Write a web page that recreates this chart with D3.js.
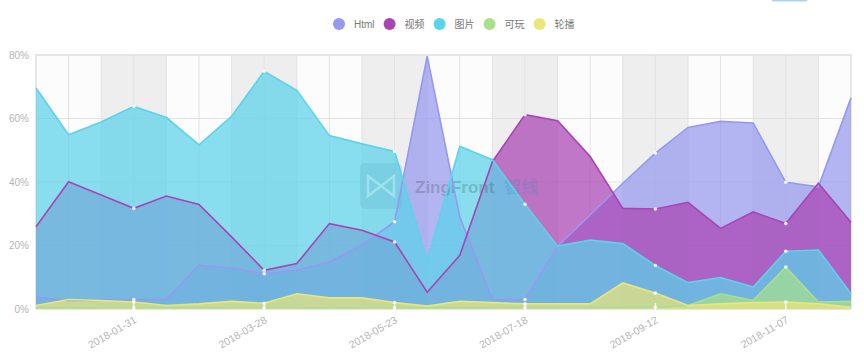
<!DOCTYPE html>
<html>
<head>
<meta charset="utf-8">
<script src="https://cdn.jsdelivr.net/npm/d3@7"></script>
<style>
  body { margin: 0; background: #fff; }
  svg { display: block; font-family: "Liberation Sans", Arial, "Noto Sans CJK SC", sans-serif; }
</style>
</head>
<body>
<script>
// categories: one point every two weeks
const dates = ["2017-12-20", "2018-01-03", "2018-01-17", "2018-01-31", "2018-02-14", "2018-02-28",
  "2018-03-14", "2018-03-28", "2018-04-11", "2018-04-25", "2018-05-09", "2018-05-23", "2018-06-06",
  "2018-06-20", "2018-07-04", "2018-07-18", "2018-08-01", "2018-08-15", "2018-08-29", "2018-09-12",
  "2018-09-26", "2018-10-10", "2018-10-24", "2018-11-07", "2018-11-21", "2018-12-05"];

const seriesNames = ["Html", "视频", "图片", "可玩", "轮播"];
const seriesColors = ["#959aee", "#a944b3", "#5bd3ea", "#a8e08c", "#ebe57a"];

// values in percent
const html   = [3.7, 2.7, 2.8, 3.0, 3.0, 13.8, 12.9, 11.1, 12.2, 14.8, 20.1, 27.5, 79.6, 29.0, 2.9, 3.0, 19.8, 29.6, 39.6, 49.1, 57.2, 59.1, 58.6, 39.9, 38.5, 66.5];
const video  = [25.9, 40.1, 35.9, 31.7, 35.6, 32.9, 22.7, 12.2, 14.3, 26.9, 24.8, 21.1, 5.3, 16.9, 46.4, 61.2, 59.3, 48.0, 31.7, 31.5, 33.6, 25.4, 30.6, 26.9, 39.6, 27.3];
const image  = [69.6, 54.9, 58.9, 63.8, 60.3, 51.7, 60.7, 74.9, 68.9, 54.6, 52.0, 49.6, 15.3, 51.2, 47.0, 33.0, 19.8, 21.7, 20.6, 13.7, 8.3, 9.9, 6.9, 18.2, 18.6, 4.8];
const play   = [0.4, 0.4, 0.4, 0.4, 0.4, 0.4, 0.4, 0.4, 0.4, 0.4, 0.4, 0.4, 0.4, 0.4, 0.4, 0.4, 0.4, 0.4, 0.5, 0.5, 1.1, 4.8, 2.7, 13.2, 2.2, 2.4];
const slide  = [1.1, 3.0, 2.7, 2.2, 1.1, 1.6, 2.4, 1.8, 4.8, 3.5, 3.5, 2.0, 0.9, 2.4, 2.0, 1.6, 1.6, 1.6, 8.2, 5.0, 1.1, 1.6, 2.0, 2.2, 1.6, 0.5];

const yTicks = [0, 20, 40, 60, 80];
const labelEvery = 4, labelOffset = 3;

const width = 864, height = 362;
const margin = {top: 55, right: 13, bottom: 53, left: 36};
const innerW = width - margin.left - margin.right,
      innerH = height - margin.top - margin.bottom;

const svg = d3.select("body").append("svg")
    .attr("width", width)
    .attr("height", height);

// small tab cut off at the top right
svg.append("rect")
    .attr("x", 771).attr("y", -6).attr("width", 37).attr("height", 7.5)
    .attr("rx", 3).attr("fill", "#a9d3f7");

const g = svg.append("g")
    .attr("transform", "translate(" + margin.left + "," + margin.top + ")");

const x = d3.scaleLinear().domain([0, dates.length - 1]).range([0, innerW]);
const y = d3.scaleLinear().domain([0, 80]).range([innerH, 0]);

// background bands, two intervals wide, alternating
g.append("rect").attr("width", innerW).attr("height", innerH).attr("fill", "#fcfcfc");
for (let i = 2; i < dates.length - 1; i += 4) {
  g.append("rect")
    .attr("x", x(i)).attr("y", 0)
    .attr("width", Math.min(x(i + 2), innerW) - x(i))
    .attr("height", innerH)
    .attr("fill", "#eeeeee");
}

// grid
g.selectAll(".vgrid").data(dates).join("line")
    .attr("x1", (d, i) => x(i)).attr("x2", (d, i) => x(i))
    .attr("y1", 0).attr("y2", innerH)
    .attr("stroke", "#e2e2e2");
g.selectAll(".hgrid").data(yTicks).join("line")
    .attr("x1", 0).attr("x2", innerW)
    .attr("y1", d => y(d)).attr("y2", d => y(d))
    .attr("stroke", "#e2e2e2");
g.append("rect").attr("width", innerW).attr("height", innerH)
    .attr("fill", "none").attr("stroke", "#e4e4e4").attr("stroke-width", 1.5);

// areas first, lines on top
const series = [html, video, image, play, slide];
const area = d3.area()
    .x((d, i) => x(i))
    .y0(y(0))
    .y1(d => y(d));
const line = d3.line()
    .x((d, i) => x(i))
    .y(d => y(d));

series.forEach((vals, k) => {
  g.append("path").datum(vals)
      .attr("d", area)
      .attr("fill", seriesColors[k])
      .attr("fill-opacity", 0.72);
});

// watermark
const wm = g.append("g").attr("transform", "translate(" + (360 - margin.left) + "," + (163 - margin.top) + ")").attr("opacity", 0.22);
wm.append("rect").attr("width", 42).attr("height", 46).attr("rx", 5).attr("fill", "#5aa9c8");
wm.append("path").attr("d", "M8,13 L8,33 L21,23 Z M34,13 L34,33 L21,23 Z")
    .attr("fill", "none").attr("stroke", "#ffffff").attr("stroke-width", 2.5);
const wmText = wm.append("text").attr("x", 55).attr("y", 30).text("ZingFront")
    .attr("font-size", 17).attr("font-weight", "bold").attr("fill", "#333");
wm.append("text").attr("x", 55 + wmText.node().getComputedTextLength() + 10).attr("y", 30).text("智线")
    .attr("font-family", "Noto Sans CJK SC").attr("font-size", 17).attr("font-weight", "bold").attr("fill", "#2a8fd0");

series.forEach((vals, k) => {
  g.append("path").datum(vals)
      .attr("d", line)
      .attr("fill", "none")
      .attr("stroke", seriesColors[k])
      .attr("stroke-width", 1.6);
});

// markers on labelled points
series.forEach((vals, k) => {
  g.selectAll(".m" + k).data(vals.map((v, i) => [i, v]).filter(d => d[0] % labelEvery === labelOffset))
    .join("circle")
      .attr("cx", d => x(d[0])).attr("cy", d => y(d[1]))
      .attr("r", 1.8).attr("fill", "#ffffff").attr("opacity", 0.85);
});

// y axis
const yAxis = g.append("g")
    .call(d3.axisLeft(y).tickValues(yTicks).tickFormat(d => d + "%").tickSize(0).tickPadding(7));
yAxis.select(".domain").remove();
yAxis.selectAll("text").attr("fill", "#b5b5b5").attr("font-size", 10);

// x axis
const labelled = d3.range(labelOffset, dates.length, labelEvery);
const xAxis = g.append("g")
    .attr("transform", "translate(0," + innerH + ")")
    .call(d3.axisBottom(x).tickValues(labelled).tickFormat(i => dates[i]).tickSize(0).tickPadding(0));
xAxis.select(".domain").remove();
xAxis.selectAll("text")
    .attr("fill", "#b5b5b5").attr("font-size", 10.5)
    .attr("text-anchor", "end")
    .attr("dy", 0)
    .attr("transform", "translate(3,13) rotate(-30)");
g.selectAll(".tk").data(labelled).join("line")
    .attr("x1", d => x(d)).attr("x2", d => x(d))
    .attr("y1", innerH - 6).attr("y2", innerH + 1)
    .attr("stroke", "#ffffff").attr("stroke-width", 1.2);

// legend
const legend = svg.append("g").attr("transform", "translate(0,24)");
let lx = 339;
seriesNames.forEach((name, k) => {
  legend.append("circle").attr("cx", lx).attr("cy", 0).attr("r", 6).attr("fill", seriesColors[k]);
  const t = legend.append("text").attr("x", lx + 15).attr("y", 3.5).text(name)
      .attr("font-size", 10).attr("fill", "#777");
  lx += 15 + t.node().getComputedTextLength() + 15;
});
</script>
</body>
</html>
